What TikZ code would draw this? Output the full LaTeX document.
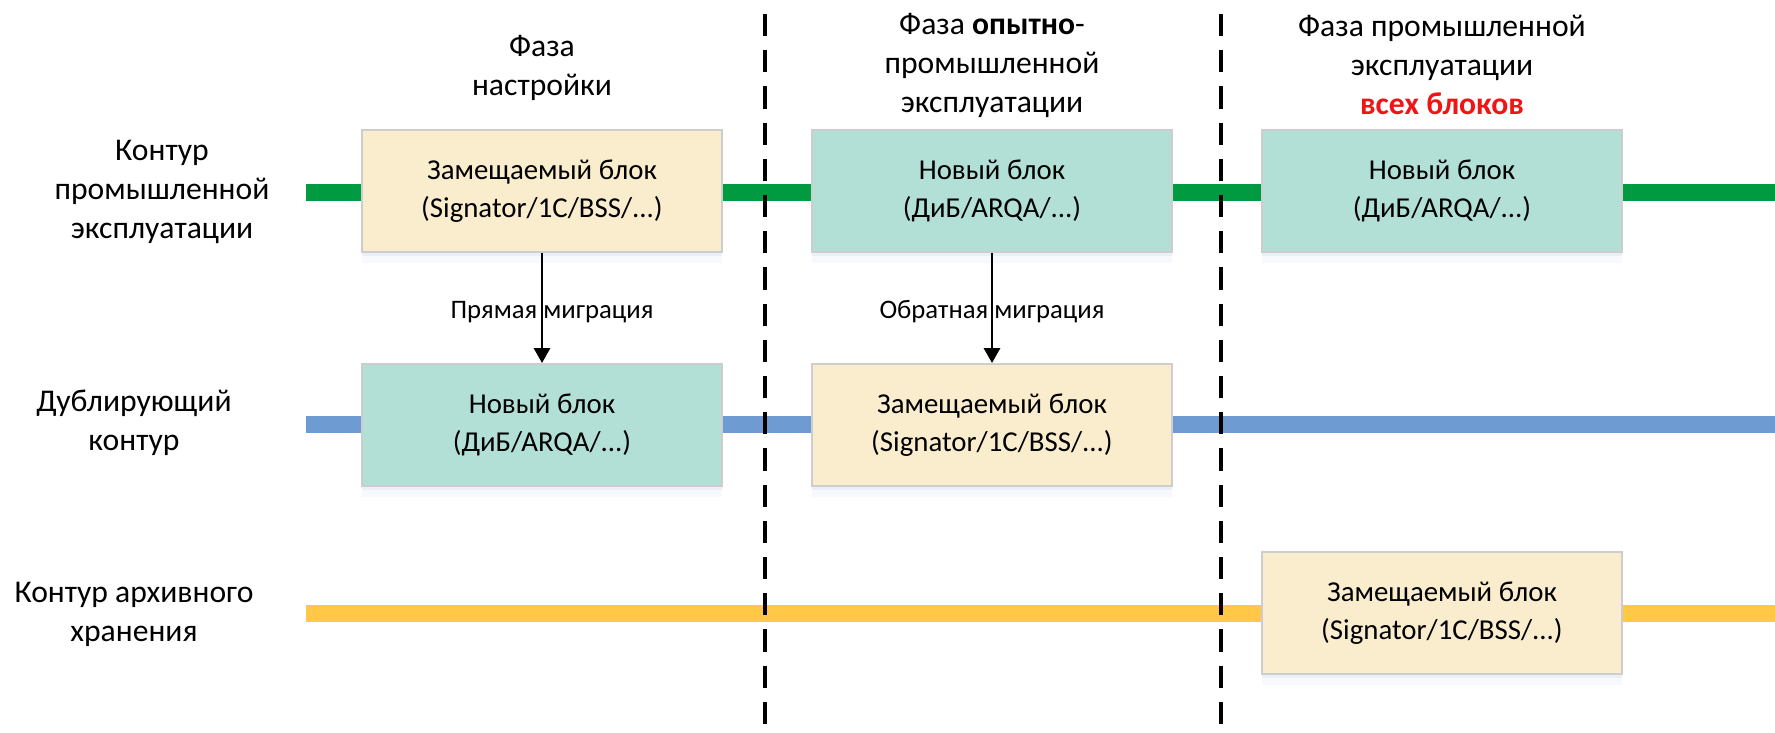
\documentclass[tikz,border=0pt]{standalone}
\usepackage{fontspec}
\setmainfont{Carlito}
\usetikzlibrary{arrows.meta, positioning, shadows}

\definecolor{prodgreen}{RGB}{0,155,65}
\definecolor{dupblue}{RGB}{110,155,210}
\definecolor{archyellow}{RGB}{255,200,70}
\definecolor{oldfill}{RGB}{250,237,206}
\definecolor{newfill}{RGB}{178,224,215}
\definecolor{boxline}{RGB}{205,205,205}
\definecolor{hotred}{RGB}{240,20,20}
\definecolor{shadowblue}{RGB}{120,150,210}

\tikzset{
  blockbox/.style={draw=boxline, line width=0.6pt, minimum width=3.6cm, minimum height=1.22cm,
    align=center, font=\fontsize{8.2}{11}\selectfont,
    drop shadow={shadow xshift=0pt, shadow yshift=-1.2pt, opacity=0.10, fill=shadowblue},
    drop shadow={shadow xshift=0pt, shadow yshift=-3pt, opacity=0.06, fill=shadowblue}},
  oldblock/.style={blockbox, fill=oldfill},
  newblock/.style={blockbox, fill=newfill},
  contour/.style={line width=0.17cm},
  phaseline/.style={line width=0.9pt, dash pattern=on 6.3pt off 4pt},
  rowlabel/.style={align=center, font=\fontsize{9}{11.1}\selectfont},
  migr/.style={font=\fontsize{7.6}{9}\selectfont},
  migrarrow/.style={line width=0.6pt, -{Triangle[length=4.2pt, width=4.6pt]}}
}

\begin{document}
\begin{tikzpicture}
    \useasboundingbox (0,0) rectangle (17.75,7.32);

    % Contours (horizontal lines)
    \coordinate (gL) at (3.06,5.40);  \coordinate (gR) at (17.75,5.40);
    \coordinate (bL) at (3.06,3.08);  \coordinate (bR) at (17.75,3.08);
    \coordinate (yL) at (3.06,1.19);  \coordinate (yR) at (17.75,1.19);
    \draw[contour, prodgreen] (gL) -- (gR);
    \draw[contour, dupblue] (bL) -- (bR);
    \draw[contour, archyellow] (yL) -- (yR);

    % Phase borders
    \coordinate (d1t) at (7.65,7.18);  \coordinate (d1b) at (7.65,0.07);
    \coordinate (d2t) at (12.21,7.18); \coordinate (d2b) at (12.21,0.07);
    \draw[phaseline] (d1t) -- (d1b);
    \draw[phaseline] (d2t) -- (d2b);

    % Row labels
    \node[rowlabel] (rowprod) at (1.62,5.40) {Контур\\промышленной\\эксплуатации};
    \node[rowlabel] (rowdup) at (1.34,3.09) {Дублирующий\\контур};
    \node[rowlabel] (rowarch) at (1.34,1.18) {Контур архивного\\хранения};

    % Phase headers
    \node[rowlabel] (phase1) at (5.42,6.645) {Фаза\\настройки};
    \node[rowlabel] (phase2) at (9.92,6.67) {Фаза \textbf{опытно}-\\промышленной\\эксплуатации};
    \node[rowlabel] (phase3) at (14.42,6.67) {Фаза промышленной\\эксплуатации\\\textcolor{hotred}{\textbf{всех блоков}}};

    % Blocks
    \node[oldblock] (prodold) at (5.42,5.41) {Замещаемый блок\\(Signator/1C/BSS/...)};
    \node[newblock] (prodnew) at (9.92,5.41) {Новый блок\\(ДиБ/ARQA/...)};
    \node[newblock] (prodall) at (14.42,5.41) {Новый блок\\(ДиБ/ARQA/...)};
    \node[newblock] (dupnew) at (5.42,3.07) {Новый блок\\(ДиБ/ARQA/...)};
    \node[oldblock] (dupold) at (9.92,3.07) {Замещаемый блок\\(Signator/1C/BSS/...)};
    \node[oldblock] (archold) at (14.42,1.19) {Замещаемый блок\\(Signator/1C/BSS/...)};

    % Migrations
    \node[migr] (fwd) at (5.52,4.20) {Прямая миграция};
    \node[migr] (back) at (9.92,4.20) {Обратная миграция};
    \draw[migrarrow] (prodold) -- (dupnew);
    \draw[migrarrow] (prodnew) -- (dupold);
\end{tikzpicture}
\end{document}
